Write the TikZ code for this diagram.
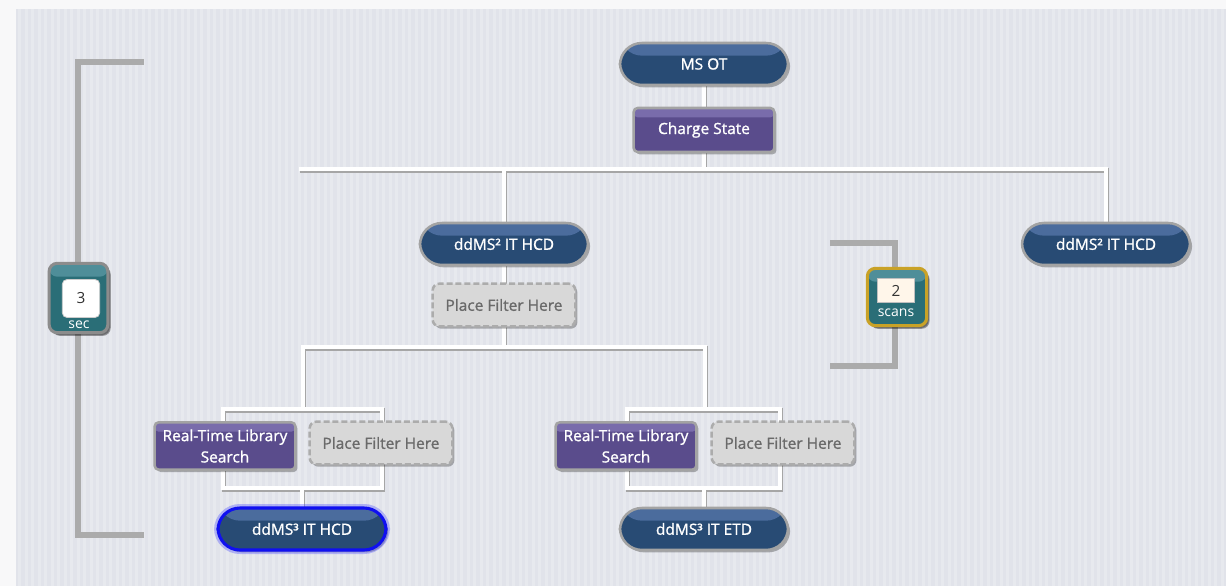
\documentclass[tikz,border=0pt]{standalone}
\usepackage{fontspec}
\setmainfont{Open Sans}
\newfontfamily\semib{Open Sans}[FakeBold=1.2]
\usetikzlibrary{shadows}
\definecolor{outside}{HTML}{F8F8F9}
\definecolor{bgd}{HTML}{E1E3EA}
\definecolor{bgl}{HTML}{E7E9EE}
\definecolor{navy}{HTML}{284B74}
\definecolor{navytop}{HTML}{4B6C9D}
\definecolor{purp}{HTML}{5A4C8C}
\definecolor{purptop}{HTML}{796CAB}
\definecolor{edge}{HTML}{A3A3A3}
\definecolor{filt}{HTML}{D8D8D8}
\definecolor{filttxt}{HTML}{6A6A6A}
\definecolor{teal}{HTML}{2A6E77}
\definecolor{tealtop}{HTML}{4F8E99}
\definecolor{brk}{HTML}{ABABAB}
\definecolor{gold}{HTML}{C9A227}
\definecolor{cream}{HTML}{FFF6EA}
\definecolor{selblue}{HTML}{1010F0}
\pgfdeclarelayer{bg}
\pgfsetlayers{bg,main}
\tikzset{
  shade/.style={drop shadow={shadow xshift=1.6pt, shadow yshift=-1.8pt, opacity=0.28, fill=black}},
  base/.style={draw=edge, line width=1.9pt, text=white, font=\semib\fontsize{11.6}{16}\selectfont,
    inner sep=0pt, align=center, shade},
  pill/.style={base, rounded corners=16.5pt, minimum width=126pt, minimum height=31.5pt, fill=navy,
    path picture={\fill[navytop] (path picture bounding box.north west) rectangle ([yshift=-9.5pt]path picture bounding box.north east);}},
  purpbox/.style={base, rounded corners=3pt, minimum width=105.5pt, fill=purp,
    path picture={\fill[purptop] (path picture bounding box.north west) rectangle ([yshift=-7pt]path picture bounding box.north east);}},
  filter/.style={base, draw=edge!90, dash pattern=on 4.5pt off 2.2pt, fill=filt, text=filttxt,
    rounded corners=5pt, minimum width=107pt, minimum height=32pt},
  tealbox/.style={base, draw=gray!90, line width=2.3pt, rounded corners=6pt, fill=teal,
    drop shadow={shadow xshift=2.2pt, shadow yshift=-2.4pt, opacity=0.35, fill=black},
    path picture={\fill[tealtop] (path picture bounding box.north west) rectangle ([yshift=-10pt]path picture bounding box.north east);}},
  wire/.style={draw=white, line width=3.4pt, line cap=rect, line join=miter},
  bracket/.style={draw=brk, line width=3.8pt, line cap=rect, line join=miter}
}
\newcommand\wirepaths{%
  \draw[wire] (msot.south) -- (cs.north);
  \draw[wire] (cs.south) -- (cs.south |- barL);
  \draw[wire] (barL) -- (barR) -- (ms2b.north);
  \draw[wire] (ms2a.north |- barL) -- (ms2a.north);
  \draw[wire] (ms2a.south) -- (pfa.north);
  \draw[wire] (pfa.south) -- (pfa.south |- barTL);
  \draw[wire] (subL) -- (barTL) -- (barTR) -- (subR);
  \draw[wire] (boxAtl) rectangle (boxAbr);
  \draw[wire] (ms3a.north |- boxAbr) -- (ms3a.north);
  \draw[wire] (boxBtl) rectangle (boxBbr);
  \draw[wire] (ms3b.north |- boxBbr) -- (ms3b.north);
}
\begin{document}
\begin{tikzpicture}[x=0.75pt,y=-0.75pt]
\useasboundingbox (0,0) rectangle (1226,586);
\begin{pgfonlayer}{bg}
  \fill[outside] (0,0) rectangle (1226,586);
  \fill[bgd] (16,9) rectangle (1226,586);
  \foreach \x in {18,24.5,...,1224} \fill[bgl] (\x,9) rectangle ++(3,577);
\end{pgfonlayer}

% coordinates for wires
\coordinate (barL) at (301,169);
\coordinate (barR) at (1106,169);
\coordinate (barTL) at (303,347);
\coordinate (barTR) at (705,347);
\coordinate (subL) at (303,409);
\coordinate (subR) at (705,409);
\coordinate (boxAtl) at (223,409);
\coordinate (boxAbr) at (382,488);
\coordinate (boxBtl) at (627,409);
\coordinate (boxBbr) at (780,488);

% brackets
\coordinate (lbT) at (141,62);
\coordinate (lbB) at (141,535);
\draw[bracket] (lbT) -- (78,62) -- (78,535) -- (lbB);
\coordinate (sbT) at (833,243);
\coordinate (sbB) at (833,366);
\draw[bracket] (sbT) -- (895,243) -- (895,366) -- (sbB);

% nodes
\node[pill] (msot) at (704,64) {MS OT};
\node[purpbox, minimum height=33pt] (cs) at (704,130) {Charge State};
\node[pill] (ms2a) at (504,244) {ddMS² IT HCD};
\node[filter] (pfa) at (504,305) {Place Filter Here};
\node[pill] (ms2b) at (1106,244) {ddMS² IT HCD};
\node[purpbox, minimum height=35.5pt] (rtls1) at (225,446) {Real-Time Library\\Search};
\node[filter] (pf1) at (381,443) {Place Filter Here};
\node[pill, draw=selblue, line width=2.3pt,
  preaction={draw=blue!70, line width=6pt, opacity=0.35}] (ms3a) at (302,529) {ddMS³ IT HCD};
\node[purpbox, minimum height=35.5pt] (rtls2) at (626,446) {Real-Time Library\\Search};
\node[filter] (pf2) at (783,443) {Place Filter Here};
\node[pill] (ms3b) at (704,529) {ddMS³ IT ETD};

% time / scan boxes
\node[tealbox, minimum width=44pt, minimum height=52pt] (sec) at (78.5,298) {};
\node[text=white, inner sep=0pt, font=\fontsize{10.5}{12}\selectfont, anchor=base] (seclbl) at (79,328) {sec};
\node[draw=gray!40, line width=0.6pt, fill=white, rounded corners=3.5pt, minimum width=28pt, minimum height=28.5pt,
  inner sep=0pt, text=black!80, font=\fontsize{11.5}{13}\selectfont] (secval) at (81,298.5) {3};

\node[tealbox, draw=gold, minimum width=44.5pt, minimum height=43pt] (scans) at (897,297) {};
\node[draw=gray!50, line width=0.6pt, fill=cream, minimum width=27.5pt, minimum height=17.5pt,
  inner sep=0pt, text=black!80, font=\fontsize{11.5}{13}\selectfont] (scval) at (896,290.5) {2};
\node[text=white, inner sep=0pt, font=\fontsize{10.5}{12}\selectfont] (sclbl) at (896,313) {scans};

% wires (shadow then white)
\begin{pgfonlayer}{bg}
  \begin{scope}[transform canvas={shift={(0.6pt,-1.2pt)}}, wire/.style={draw=black!35, line width=3.4pt, line cap=rect, line join=miter}]
    \wirepaths
  \end{scope}
  \wirepaths
\end{pgfonlayer}
\end{tikzpicture}
\end{document}
